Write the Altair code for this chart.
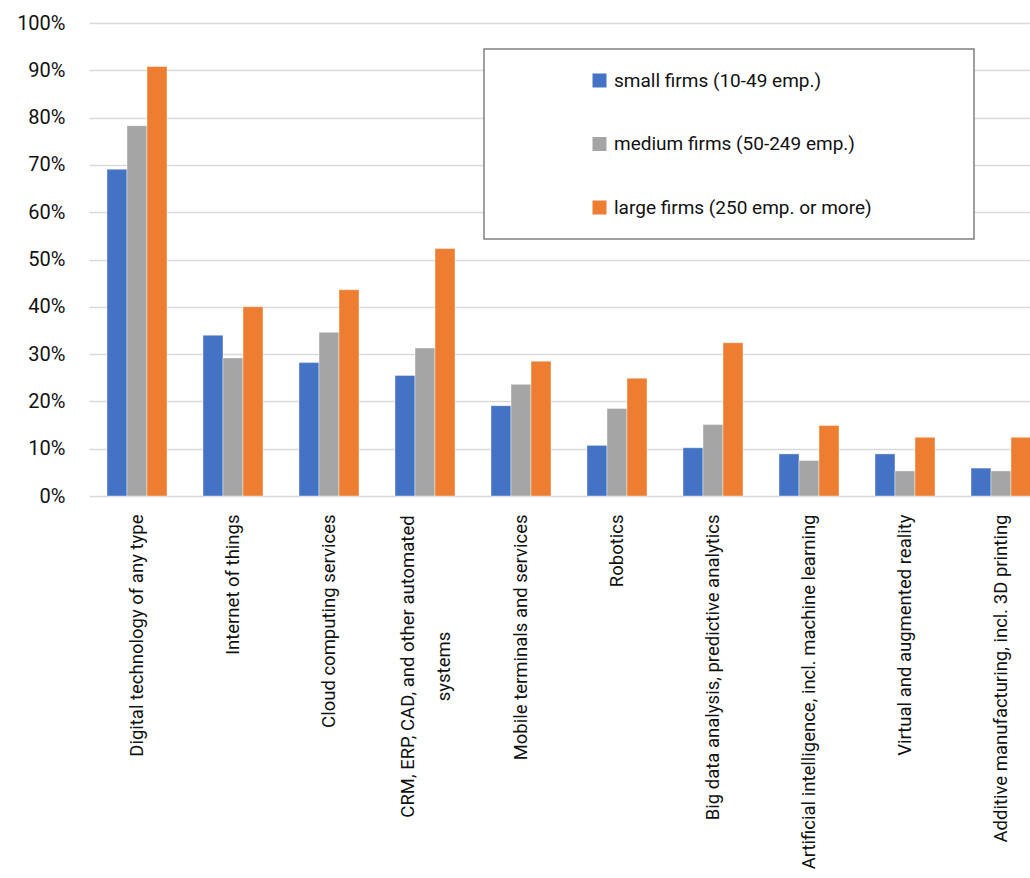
import altair as alt
import pandas as pd

# Share of firms using each digital technology, by firm size
categories = [
    "Digital technology of any type",
    "Internet of things",
    "Cloud computing services",
    "CRM, ERP, CAD, and other automated systems",
    "Mobile terminals and services",
    "Robotics",
    "Big data analysis, predictive analytics",
    "Artificial intelligence, incl. machine learning",
    "Virtual and augmented reality",
    "Additive manufacturing, incl. 3D printing",
]
series_names = [
    "small firms (10-49 emp.)",
    "medium firms (50-249 emp.)",
    "large firms (250 emp. or more)",
]
small_firms = [0.691, 0.340, 0.282, 0.255, 0.191, 0.107, 0.102, 0.089, 0.089, 0.059]
medium_firms = [0.783, 0.292, 0.346, 0.313, 0.236, 0.185, 0.151, 0.075, 0.053, 0.053]
large_firms = [0.908, 0.400, 0.436, 0.523, 0.285, 0.249, 0.324, 0.149, 0.124, 0.124]
series_colors = ["#4472C4", "#A5A5A5", "#ED7D31"]
y_ticks = [i / 10 for i in range(11)]

rows = []
for name, values in zip(series_names, [small_firms, medium_firms, large_firms]):
    for cat, v in zip(categories, values):
        rows.append({"technology": cat, "size": name, "share": v})
df = pd.DataFrame(rows)

FONT = "Roboto"
WRAPPED = "CRM, ERP, CAD, and other automated systems"
IS_WRAPPED = f"datum.value == '{WRAPPED}'"

label_expr = (
    f"datum.label == '{WRAPPED}' ? "
    "['CRM, ERP, CAD, and other automated', 'systems'] : datum.label"
)

bars = alt.Chart(df).mark_bar(
    stroke="white", strokeWidth=0.6, strokeOpacity=0.7
).encode(
    x=alt.X(
        "technology:N",
        sort=categories,
        scale=alt.Scale(range=[0, 960], paddingInner=0.375, paddingOuter=0.1875),
        axis=alt.Axis(
            title=None,
            labelAngle=-90,
            labelExpr=label_expr,
            labelAlign={"condition": {"test": IS_WRAPPED, "value": "center"}, "value": "right"},
            labelPadding={"condition": {"test": IS_WRAPPED, "value": 170}, "value": 18},
            labelOffset={"condition": {"test": IS_WRAPPED, "value": -17}, "value": 0},
            labelLineHeight=36,
            labelFont=FONT,
            labelFontSize=18.5,
            labelColor="#111111",
            labelLimit=500,
            domain=False,
            ticks=False,
            grid=False,
        ),
    ),
    xOffset=alt.XOffset(
        "size:N",
        sort=series_names,
        scale=alt.Scale(paddingInner=0, paddingOuter=0),
    ),
    y=alt.Y(
        "share:Q",
        scale=alt.Scale(domain=[0, 1], nice=False),
        axis=alt.Axis(
            title=None,
            values=y_ticks,
            format=".0%",
            labelFont=FONT,
            labelFontSize=20,
            labelColor="#111111",
            labelPadding=24,
            domain=False,
            ticks=False,
            grid=True,
            gridColor="#d9d9d9",
            gridWidth=1.4,
        ),
    ),
    color=alt.Color(
        "size:N",
        sort=series_names,
        scale=alt.Scale(domain=series_names, range=series_colors),
        legend=alt.Legend(
            title=None,
            orient="none",
            legendX=501,
            legendY=48,
            symbolType="square",
            symbolSize=196,
            symbolStrokeWidth=0,
            labelFont=FONT,
            labelFontSize=19,
            labelColor="#111111",
            labelOffset=5,
            labelLimit=400,
            rowPadding=43.5,
            padding=0,
        ),
    ),
)

# White legend panel with a grey frame
legend_box = alt.Chart(df).mark_rect(
    fill="white", stroke="#808080", strokeWidth=1.5
).encode(
    x=alt.value(395), x2=alt.value(885), y=alt.value(26), y2=alt.value(216)
).transform_filter("datum.technology == 'Robotics' && datum.size == 'small firms (10-49 emp.)'")

chart = alt.layer(legend_box, bars).properties(
    width=941,
    height=473,
    padding={"left": 89, "top": 23, "right": 0, "bottom": 382},
    autosize=alt.AutoSizeParams(type="none"),
    background="white",
).configure_view(stroke=None)

chart.save("out.html", embed_options={"renderer": "svg", "actions": False})
